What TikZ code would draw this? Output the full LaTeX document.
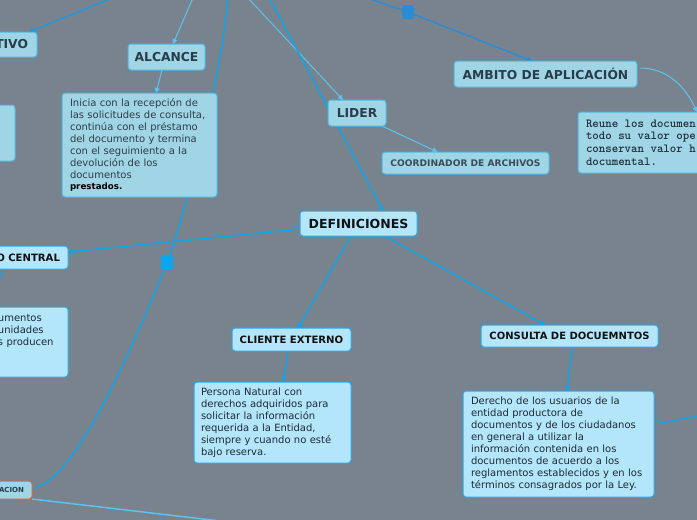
\documentclass[tikz,border=0pt]{standalone}
\usepackage{fontspec}
\setmainfont{DejaVu Sans}
\usetikzlibrary{arrows.meta,calc}
\pgfdeclarelayer{back}
\pgfsetlayers{back,main}
\definecolor{bg}{HTML}{78838D}
\definecolor{topfill}{HTML}{9FD5E4}
\definecolor{topdraw}{HTML}{4DB7E3}
\definecolor{subfill}{HTML}{B3E6FB}
\definecolor{subdraw}{HTML}{29A9EA}
\definecolor{toptext}{HTML}{2A3C4C}
\definecolor{subtext}{HTML}{111111}
\definecolor{bright}{HTML}{0AA6EE}
\definecolor{light}{HTML}{5CC3EF}
\definecolor{mid}{HTML}{2A8CD4}
\definecolor{tivoline}{HTML}{1F98DE}
\definecolor{orangeb}{HTML}{E2643A}
\definecolor{coordtext}{HTML}{3A4C5B}
\definecolor{initext}{HTML}{2E3D49}
\definecolor{reunetext}{HTML}{1E2E3C}
\definecolor{bodytext}{HTML}{1E2A33}
\begin{document}
\begin{tikzpicture}[x=1pt,y=-1pt,
  basebox/.style={rectangle,rounded corners=3pt,line width=1pt,inner sep=0pt,outer sep=0pt},
  topbox/.style={basebox,fill=topfill,draw=topdraw,text=toptext},
  subbox/.style={basebox,fill=subfill,draw=subdraw,text=subtext},
  hdr/.style={font=\fontsize{12.3}{14}\selectfont\bfseries},
  body/.style={font=\fontsize{10}{12}\selectfont,align=left},
  knot/.style={rectangle,rounded corners=2pt,inner sep=0pt,minimum width=12pt,minimum height=14pt},
  brightline/.style={draw=bright,line width=1.4pt},
  lightline/.style={draw=light,line width=1pt},
  tip/.style={-{Triangle[length=5pt,width=5pt]}},
]
\useasboundingbox (0,0) rectangle (697,520);

% top nodes
\node[topbox,hdr,minimum width=87pt,minimum height=25pt,text width=69pt,align=right] (tivo) at (-6.5,44.5) {TIVO};
\node[topbox,hdr,minimum width=77pt,minimum height=26pt] (alcance) at (166.5,57) {ALCANCE};
\node[topbox,body,text=initext,text width=139pt,minimum width=155pt,minimum height=104pt] (inicia) at (139.5,145)
  {Inicia con la recepción de\\las solicitudes de consulta,\\continúa con el préstamo\\del documento y termina\\con el seguimiento a la\\devolución de los\\documentos\\[-1pt]{\fontsize{8.7}{10}\selectfont\bfseries\color{black}prestados.}};
\node[topbox,minimum width=65pt,minimum height=56pt] (leftbox) at (-17.5,133) {};
\node[topbox,hdr,minimum width=58pt,minimum height=26pt] (lider) at (357,113) {LIDER};
\node[topbox,font=\fontsize{9.1}{11}\selectfont\bfseries,text=coordtext,minimum width=167pt,minimum height=22pt] (coord) at (465.5,163) {COORDINADOR DE ARCHIVOS};
\node[topbox,hdr,minimum width=183pt,minimum height=26pt] (ambito) at (545.5,74) {AMBITO DE APLICACIÓN};
\node[topbox,font=\ttfamily\fontsize{12.3}{12.7}\selectfont\bfseries,align=left,text=reunetext,text width=166pt,minimum width=182pt,minimum height=61pt] (reune) at (669,142.5)
  {\spaceskip=6.46pt\relax Reune los documen\\todo su valor ope\\conservan valor h\\documental.};

% definiciones branch
\node[subbox,font=\fontsize{12.5}{14}\selectfont\bfseries,minimum width=117pt,minimum height=25pt] (def) at (358.5,223.5) {DEFINICIONES};
\node[subbox,font=\fontsize{10.1}{12}\selectfont\bfseries,minimum width=118pt,minimum height=23pt,text width=102pt,align=right] (ocentral) at (9,257.5) {O CENTRAL};
\node[subbox,body,text=bodytext,text width=62pt,minimum width=78pt,minimum height=70pt] (umentos) at (29,342) {umentos\\unidades\\s producen\\\mbox{}\\\mbox{}};
\node[subbox,font=\fontsize{10.1}{12}\selectfont\bfseries,minimum width=119pt,minimum height=23pt] (cliente) at (291.5,339.5) {CLIENTE EXTERNO};
\node[subbox,font=\fontsize{10}{12}\selectfont\bfseries,minimum width=177pt,minimum height=22pt] (consulta) at (569.5,336) {CONSULTA DE DOCUEMNTOS};
\node[subbox,body,text=bodytext,text width=143pt,minimum width=157pt,minimum height=81pt] (persona) at (272.5,422.5)
  {Persona Natural con\\derechos adquiridos para\\solicitar la información\\requerida a la Entidad,\\siempre y cuando no esté\\bajo reserva.};
\node[subbox,body,text=bodytext,text width=175pt,minimum width=191pt,minimum height=106pt] (derecho) at (558.5,444)
  {Derecho de los usuarios de la\\entidad productora de\\documentos y de los ciudadanos\\en general a utilizar la\\información contenida en los\\documentos de acuerdo a los\\reglamentos establecidos y en los\\términos consagrados por la Ley.};
\node[basebox,fill=topfill,draw=orangeb,text=toptext,font=\fontsize{7}{8}\selectfont\bfseries,minimum width=82pt,minimum height=18pt,text width=66pt,align=right] (acion) at (-9,490) {ACION};

% knots
\node[knot,fill=mid] (sq1) at (408,12) {};
\node[knot,fill=bright,minimum height=15pt] (sq2) at (167,262.5) {};

% free ends
\coordinate (c1) at (132,-10);
\coordinate (c2) at (196.4,-10);
\coordinate (c3) at (240.6,-10);
\coordinate (c4) at (265,-10);
\coordinate (c5) at (344,-10);
\coordinate (c6) at (-1,280);
\coordinate (c7) at (712,413.5);
\coordinate (c8) at (250,524.5);
\coordinate (c9) at (228,-10);

\begin{pgfonlayer}{back}
\fill[bg] (0,0) rectangle (697,520);
\draw[tip,draw=tivoline,line width=1.4pt] (c1) -- ([xshift=-8pt]tivo.north east);
\draw[tip,lightline] (c2) -- ([xshift=6.5pt]alcance.north);
\draw[tip,lightline] ([xshift=-4.5pt]alcance.south) -- ([xshift=16.5pt]inicia.north);
\draw[tip,lightline] (c3) -- ([xshift=-14pt]lider.north);
\draw[tip,lightline] ([xshift=25pt]lider.south) -- ([xshift=-28pt]coord.north);
\draw[tip,brightline] (c4) -- ([xshift=24.5pt]def.north);
\draw[tip,draw=mid,line width=1.4pt] (c5) -- (sq1) -- ([xshift=-13.5pt]ambito.north);
\draw[tip,lightline] ($(ambito.north east)+(3,7)$) .. controls (668,68) and (686,88) .. ([xshift=28pt]reune.north);
\draw[tip,brightline] ([yshift=-5.5pt]def.west) -- ([yshift=5.5pt]ocentral.east);
\draw[draw=bright,line width=1pt] ([xshift=-5pt]ocentral.south) -- (c6);
\draw[tip,brightline] ([xshift=-7.5pt]def.south) -- ([xshift=6.5pt]cliente.north);
\draw[tip,brightline] ([xshift=26.5pt]def.south) -- ([xshift=-24.5pt]consulta.north);
\draw[tip,brightline] ([xshift=-3.5pt]cliente.south) -- ([xshift=10.5pt]persona.north);
\draw[tip,brightline] ([xshift=2.5pt]consulta.south) -- ([xshift=8.5pt]derecho.north);
\draw[brightline] ([yshift=20pt]derecho.east) -- (c7);
\draw[draw=light,line width=1.5pt] (acion.south east) -- (c8);
\draw[brightline] ([yshift=2pt]acion.east) .. controls (75,486) and (140,330) .. (sq2.center) .. controls (185,215) and (226,60) .. (c9);
\end{pgfonlayer}
\end{tikzpicture}
\end{document}
